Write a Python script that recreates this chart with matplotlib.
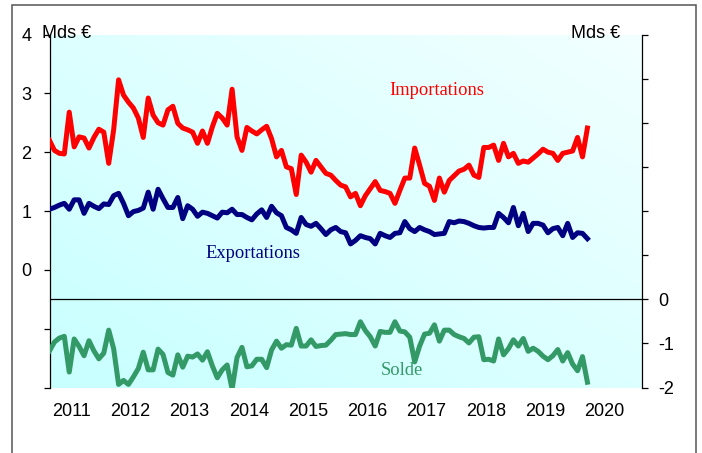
import numpy as np
import matplotlib
matplotlib.use("Agg")
import matplotlib.pyplot as plt
from matplotlib.patches import Rectangle

plt.rcParams['font.family'] = ['Liberation Sans', 'DejaVu Sans']

# Monthly data, Feb 2011 -> Mar 2020 (Mds €)
start_year = 2011
start_month = 2
importations = [
    2.20, 2.03, 1.98, 1.97, 2.68, 2.09, 2.26, 2.24, 2.07, 2.25,
    2.39, 2.34, 1.81, 2.38, 3.23, 2.97, 2.85, 2.75, 2.58, 2.25,
    2.92, 2.63, 2.50, 2.46, 2.72, 2.78, 2.49, 2.41, 2.38, 2.34,
    2.15, 2.36, 2.15, 2.43, 2.66, 2.58, 2.46, 3.07, 2.26, 2.03,
    2.42, 2.36, 2.31, 2.38, 2.44, 2.23, 1.92, 2.03, 1.75, 1.72,
    1.28, 1.95, 1.83, 1.66, 1.86, 1.75, 1.64, 1.61, 1.52, 1.44,
    1.41, 1.24, 1.30, 1.09, 1.26, 1.38, 1.50, 1.35, 1.33, 1.30,
    1.13, 1.35, 1.56, 1.56, 2.07, 1.78, 1.47, 1.42, 1.18, 1.56,
    1.32, 1.52, 1.60, 1.68, 1.71, 1.78, 1.61, 1.57, 2.08, 2.08,
    2.12, 1.86, 2.15, 1.92, 1.98, 1.81, 1.85, 1.83, 1.90, 1.97,
    2.05, 2.00, 1.98, 1.86, 1.98, 2.00, 2.02, 2.25, 1.92, 2.41,
]
exportations = [
    1.03, 1.06, 1.10, 1.13, 1.03, 1.19, 1.19, 0.96, 1.13, 1.08,
    1.04, 1.12, 1.11, 1.26, 1.30, 1.13, 0.92, 0.99, 1.01, 1.05,
    1.32, 1.03, 1.37, 1.21, 1.06, 1.06, 1.23, 0.87, 1.09, 1.03,
    0.91, 0.98, 0.96, 0.92, 0.88, 0.98, 0.97, 1.03, 0.94, 0.94,
    0.89, 0.85, 0.95, 1.02, 0.89, 1.08, 0.97, 0.92, 0.72, 0.68,
    0.62, 0.89, 0.77, 0.74, 0.79, 0.70, 0.60, 0.68, 0.72, 0.65,
    0.63, 0.44, 0.50, 0.58, 0.55, 0.53, 0.44, 0.62, 0.58, 0.55,
    0.62, 0.63, 0.82, 0.70, 0.65, 0.72, 0.68, 0.65, 0.60, 0.61,
    0.62, 0.82, 0.80, 0.83, 0.82, 0.79, 0.75, 0.72, 0.71, 0.72,
    0.72, 0.96, 0.89, 0.80, 1.06, 0.75, 0.96, 0.65, 0.79, 0.79,
    0.76, 0.63, 0.70, 0.72, 0.58, 0.79, 0.55, 0.63, 0.62, 0.53,
]
solde = [
    -1.17, -0.97, -0.88, -0.84, -1.65, -0.90, -1.07, -1.28, -0.94, -1.17,
    -1.35, -1.22, -0.70, -1.12, -1.93, -1.84, -1.93, -1.76, -1.57, -1.20,
    -1.60, -1.60, -1.13, -1.25, -1.66, -1.72, -1.26, -1.54, -1.29, -1.31,
    -1.24, -1.38, -1.19, -1.51, -1.78, -1.60, -1.49, -2.04, -1.32, -1.09,
    -1.53, -1.51, -1.36, -1.36, -1.55, -1.15, -0.95, -1.11, -1.03, -1.04,
    -0.66, -1.06, -1.06, -0.92, -1.07, -1.05, -1.04, -0.93, -0.80, -0.79,
    -0.78, -0.80, -0.80, -0.51, -0.71, -0.85, -1.06, -0.73, -0.75, -0.75,
    -0.51, -0.72, -0.74, -0.86, -1.42, -1.06, -0.79, -0.77, -0.58, -0.95,
    -0.70, -0.70, -0.80, -0.85, -0.89, -0.99, -0.86, -0.85, -1.37, -1.36,
    -1.40, -0.90, -1.26, -1.12, -0.92, -1.06, -0.89, -1.18, -1.11, -1.18,
    -1.29, -1.37, -1.28, -1.14, -1.40, -1.21, -1.47, -1.62, -1.30, -1.88,
]
years = [2011, 2012, 2013, 2014, 2015, 2016, 2017, 2018, 2019, 2020]
left_ticks = [4, 3, 2, 1, 0, -1, -2]
left_labels = ['4', '3', '2', '1', '0', '', '']
right_ticks = [6, 5, 4, 3, 2, 1, 0, -1, -2]
right_labels = ['', '', '', '', '', '', '0', '-1', '-2']

x = start_year + (start_month - 1) / 12 + np.arange(len(importations)) / 12

W, H = 702, 453
fig = plt.figure(figsize=(W / 100, H / 100), dpi=100)
L, R, T, B = 49.5, 642, 34.5, 387.5
ax = fig.add_axes([L / W, 1 - B / H, (R - L) / W, (B - T) / H])
ax2 = ax.twinx()

x0 = x[0]
x1 = x0 + (R - L) / 59.22

# gradient background
gx, gy = np.meshgrid(np.linspace(0, 1, 200), np.linspace(0, 1, 200))
t = (gx + gy) / 2
c0 = np.array([200, 255, 255]) / 255
c1 = np.array([242, 255, 255]) / 255
img = c0[None, None, :] * (1 - t[..., None]) + c1[None, None, :] * t[..., None]
ax.imshow(img, extent=[x0, x1, 4, -2], aspect='auto', zorder=0, origin='upper')
ax.set_ylim(-2, 4)
ax.set_xlim(x0, x1)
ax2.set_ylim(-2, 6)

lw = 3.6
ax.plot(x, importations, color='#FF0000', lw=lw, zorder=3, solid_joinstyle='round')
ax.plot(x, exportations, color='#000080', lw=lw, zorder=3, solid_joinstyle='round')
ax2.plot(x, solde, color='#339966', lw=lw, zorder=3, solid_joinstyle='round')
ax2.axhline(0, color='black', lw=0.9, zorder=4)

for a in (ax, ax2):
    a.spines['top'].set_visible(False)
    a.spines['bottom'].set_visible(False)
ax.spines['right'].set_visible(False)
ax2.spines['left'].set_visible(False)
ax.spines['left'].set_linewidth(0.9)
ax2.spines['right'].set_linewidth(0.9)

ax.set_yticks(left_ticks)
ax.set_yticklabels(left_labels, fontsize=13)
ax.tick_params(axis='y', direction='out', length=4, width=0.9, pad=9)
ax2.set_yticks(right_ticks)
ax2.set_yticklabels(right_labels, fontsize=13)
ax2.tick_params(axis='y', direction='out', length=4, width=0.9, pad=8)

ax.set_xticks([y + 0.45 for y in years])
ax.set_xticklabels([str(y) for y in years], fontsize=13)
ax.tick_params(axis='x', length=0, pad=11)

serif = ['Liberation Serif', 'DejaVu Serif']
ax.text(2017.63, 3.04, 'Importations', color='#FF0000', fontsize=13.3, family=serif,
        ha='center', va='center', zorder=5)
ax.text(2014.52, 0.27, 'Exportations', color='#000080', fontsize=13.3, family=serif,
        ha='center', va='center', zorder=5)
ax2.text(2017.04, -1.62, 'Solde', color='#339966', fontsize=13.3, family=serif,
         ha='center', va='center', zorder=5)

fig.text(42 / W, 1 - 33 / H, 'Mds €', fontsize=13, ha='left', va='center')
fig.text(620 / W, 1 - 33 / H, 'Mds €', fontsize=13, ha='right', va='center')

fig.patches.append(Rectangle((12 / W, -0.1), (696 - 12) / W, 1 - 5 / H + 0.1,
                             transform=fig.transFigure, fill=False,
                             edgecolor='#555555', lw=1.1))

fig.savefig('out.png', dpi=100)
